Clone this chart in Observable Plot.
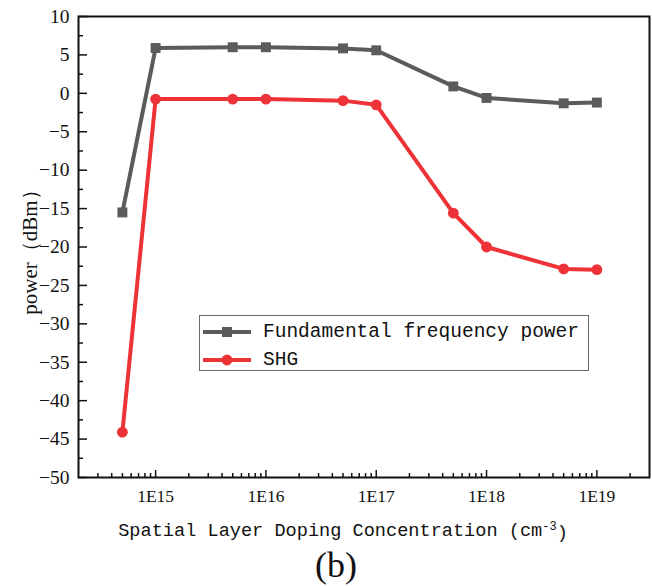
<!DOCTYPE html>
<html>
<head>
<meta charset="utf-8">
<script src="https://cdn.jsdelivr.net/npm/d3@7"></script>
<script src="https://cdn.jsdelivr.net/npm/@observablehq/plot@0.6"></script>
<style>
  html, body { margin: 0; padding: 0; background: #fff; }
  #wrap { position: relative; width: 652px; height: 586px; overflow: hidden; }
  #legend {
    position: absolute; left: 199px; top: 315px; width: 388px; height: 54px;
    border: 1.5px solid #666; background: #fff;
    font-family: "Liberation Mono", monospace; font-size: 19.5px; color: #111;
  }
  #legend .row { position: absolute; left: 0; height: 24px; display: flex; align-items: center; }
  #legend svg { margin-left: 3px; margin-right: 12px; }
</style>
</head>
<body>
<div id="wrap"></div>
<script>
// ---- data ----
const concentration = [5e14, 1e15, 5e15, 1e16, 5e16, 1e17, 5e17, 1e18, 5e18, 1e19];
const fundamentalPower = [-15.5, 5.9, 6.0, 6.0, 5.85, 5.6, 0.9, -0.6, -1.3, -1.2];
const shgPower = [-44.1, -0.75, -0.75, -0.75, -0.95, -1.5, -15.6, -20.0, -22.85, -22.95];
const seriesNames = ["Fundamental frequency power", "SHG"];
const seriesColors = ["#5b5b5b", "#ee3338"];

const xMajorTicks = [1e15, 1e16, 1e17, 1e18, 1e19];
const xTickLabels = ["1E15", "1E16", "1E17", "1E18", "1E19"];
const xMinorTicks = [
  3e14, 4e14, 5e14, 6e14, 7e14, 8e14, 9e14,
  2e15, 3e15, 4e15, 5e15, 6e15, 7e15, 8e15, 9e15,
  2e16, 3e16, 4e16, 5e16, 6e16, 7e16, 8e16, 9e16,
  2e17, 3e17, 4e17, 5e17, 6e17, 7e17, 8e17, 9e17,
  2e18, 3e18, 4e18, 5e18, 6e18, 7e18, 8e18, 9e18,
  2e19
];
const yMajorTicks = [-50, -45, -40, -35, -30, -25, -20, -15, -10, -5, 0, 5, 10];
const yMinorTicks = [-47.5, -42.5, -37.5, -32.5, -27.5, -22.5, -17.5, -12.5, -7.5, -2.5, 2.5, 7.5];

const xTitleMain = "Spatial Layer Doping Concentration (cm";
const xTitleSup = "-3";
const xTitleEnd = ")";
const yTitle = "power\uFF08dBm\uFF09";
const panelTag = "(b)";

// ---- tables ----
const fund = concentration.map((c, i) => ({x: c, y: fundamentalPower[i]}));
const shg = concentration.map((c, i) => ({x: c, y: shgPower[i]}));
const labelOf = new Map(xMajorTicks.map((t, i) => [t, xTickLabels[i]]));
const minus = d => String(d).replace("-", "\u2212");
const yLabelStrings = new Set(yMajorTicks.map(minus));
const xLabelStrings = new Set(xTickLabels);

const serif = "Liberation Serif, Times New Roman, serif";
const mono = "Liberation Mono, monospace";

const chart = Plot.plot({
  width: 652,
  height: 586,
  marginLeft: 78,
  marginRight: 3,
  marginTop: 16,
  marginBottom: 109,
  style: {background: "#fff", color: "#111", fontFamily: serif},
  x: {type: "log", domain: [2e14, 3e19], label: null},
  y: {domain: [-50, 10], label: null},
  marks: [
    Plot.frame({stroke: "#111", strokeWidth: 2}),
    // inward ticks
    Plot.axisX({ticks: xMajorTicks, tickSize: -7, tickFormat: () => "", label: null, strokeWidth: 1.5}),
    Plot.axisX({ticks: xMinorTicks, tickSize: -4, tickFormat: () => "", label: null, strokeWidth: 1.5}),
    Plot.axisY({ticks: yMajorTicks, tickSize: -9, tickFormat: () => "", label: null, strokeWidth: 1.5}),
    Plot.axisY({ticks: yMinorTicks, tickSize: -5, tickFormat: () => "", label: null, strokeWidth: 1.5}),
    // tick labels
    Plot.axisX({ticks: xMajorTicks, tickSize: 0, tickPadding: 12, tickFormat: d => labelOf.get(d), label: null, fontSize: 17.5}),
    Plot.axisY({ticks: yMajorTicks, tickSize: 0, tickPadding: 9, tickFormat: minus, label: null, fontSize: 19.5}),
    // axis titles
    Plot.text([xTitleMain], {frameAnchor: "bottom", dx: -21, dy: 58, fontSize: 18.6, fontFamily: mono, fill: "#111"}),
    Plot.text([yTitle], {frameAnchor: "left", textAnchor: "middle", dx: -48, rotate: -90, fontSize: 21, fontFamily: serif, fill: "#111"}),
    Plot.text([panelTag], {frameAnchor: "bottom", dx: -28, dy: 99, fontSize: 36, fontFamily: serif, fill: "#111"}),
    // series
    Plot.line(fund, {x: "x", y: "y", stroke: seriesColors[0], strokeWidth: 4}),
    Plot.dot(fund, {x: "x", y: "y", symbol: "square", r: 5.6, fill: seriesColors[0]}),
    Plot.line(shg, {x: "x", y: "y", stroke: seriesColors[1], strokeWidth: 4}),
    Plot.dot(shg, {x: "x", y: "y", symbol: "circle", r: 5.4, fill: seriesColors[1]})
  ]
});

// style tick labels
d3.select(chart).selectAll("text").each(function() {
  const s = this.textContent;
  if (xLabelStrings.has(s)) {
    d3.select(this).style("font-family", serif).style("font-size", "17.5px").attr("fill", "#111");
  } else if (yLabelStrings.has(s)) {
    d3.select(this).style("font-family", serif).style("font-size", "19.5px").attr("fill", "#111");
  }
});

// superscript in the x title
d3.select(chart).selectAll("text").filter(function() { return this.textContent === xTitleMain; })
  .each(function() {
    const t = d3.select(this);
    t.append("tspan").attr("dy", "-0.45em").attr("font-size", "12px").text(xTitleSup);
    t.append("tspan").attr("dy", "0.45em").text(xTitleEnd);
  });

const wrap = document.getElementById("wrap");
wrap.appendChild(chart);

// legend overlay
const legend = document.createElement("div");
legend.id = "legend";
seriesNames.forEach((name, i) => {
  const row = document.createElement("div");
  row.className = "row";
  row.style.top = (i === 0 ? 4 : 32) + "px";
  const sym = i === 0
    ? `<rect x="19" y="7" width="10" height="10" fill="${seriesColors[i]}"/>`
    : `<circle cx="24" cy="12" r="5.4" fill="${seriesColors[i]}"/>`;
  row.innerHTML = `<svg width="48" height="24"><line x1="0" x2="48" y1="12" y2="12" stroke="${seriesColors[i]}" stroke-width="4"/>${sym}</svg><span>${name}</span>`;
  legend.appendChild(row);
});
wrap.appendChild(legend);
</script>
</body>
</html>
